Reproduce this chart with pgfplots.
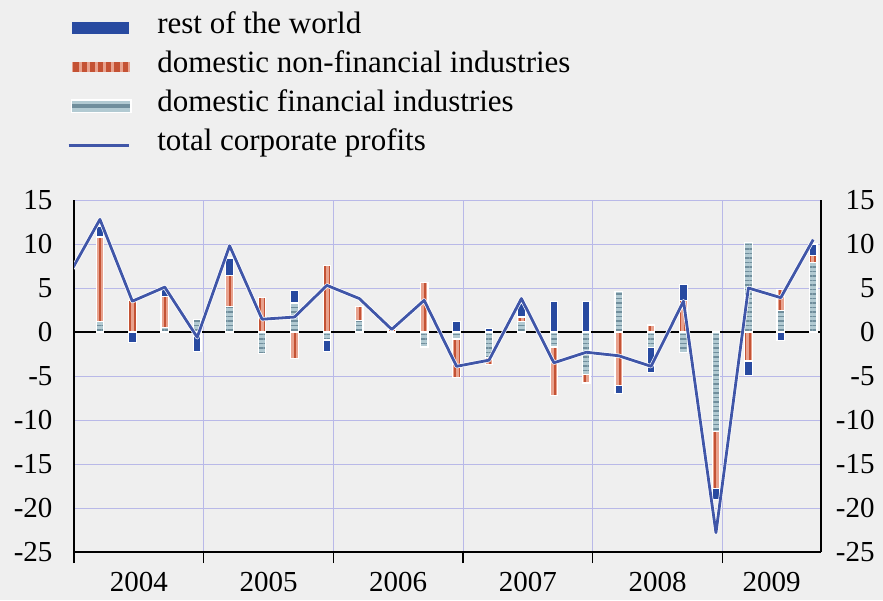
\documentclass[border=0pt]{standalone}
\usepackage{pgfplots}
\pgfplotsset{compat=1.18}
\usepackage{pgfplotstable}
\usepackage{fontspec}
\setmainfont{Liberation Serif}
\usetikzlibrary{patterns.meta}

\definecolor{bg}{RGB}{239,239,239}
\definecolor{gridc}{RGB}{185,185,232}
\definecolor{rowc}{RGB}{40,74,160}
\definecolor{linec}{RGB}{64,86,168}
\definecolor{nfdark}{RGB}{196,82,52}
\definecolor{nflight}{RGB}{232,162,142}
\definecolor{finlight}{RGB}{178,202,210}
\definecolor{findark}{RGB}{112,142,156}

% positive parts of each quarter, 2004Q1 = 0
\pgfplotstableread{
q fin nonfin row
0 1.2 9.6 1.2
1 0 3.6 0
2 0.5 3.5 0.8
3 1.4 0 0
4 2.9 3.5 2.0
5 0 3.9 0
6 3.3 0 1.4
7 0 7.6 0
8 1.3 1.6 0
9 0.1 0.2 0
10 0 5.6 0
11 0 0 1.2
12 0 0 0.4
13 1.2 0.5 1.6
14 0 0 3.5
15 0 0 3.5
16 4.6 0 0
17 0 0.8 0
18 0 3.6 1.8
19 0 0 0
20 10.2 0 0
21 2.4 2.4 0
22 7.9 0.8 1.3
}\tblpos

% negative parts
\pgfplotstableread{
q fin nonfin row
0 0 0 0
1 0 0 -1.2
2 0 0 0
3 0 0 -2.2
4 0 0 0
5 -2.4 0 0
6 0 -3.0 0
7 -0.9 0 -1.3
8 0 0 0
9 0 0 0
10 -1.7 0 0
11 -0.8 -4.4 0
12 -2.9 -0.8 0
13 0 0 0
14 -1.7 -5.5 0
15 -4.8 -1.0 0
16 0 -6.1 -0.9
17 -1.8 0 -2.8
18 -2.3 0 0
19 -11.3 -6.5 -1.2
20 0 -3.3 -1.6
21 0 0 -1.0
22 0 0 0
}\tblneg

% total corporate profits (first point is 2003Q4, clipped)
\pgfplotstableread{
q total
-1 6.2
0 12.8
1 3.5
2 5.1
3 -0.6
4 9.8
5 1.45
6 1.7
7 5.3
8 3.8
9 0.3
10 3.6
11 -3.9
12 -3.2
13 3.8
14 -3.5
15 -2.3
16 -2.7
17 -3.9
18 3.5
19 -22.8
20 5.0
21 3.9
22 10.5
}\tbltot

\pgfplotsset{
  frame/.style={scale only axis, width=747pt, height=352pt,
    at={(74pt,48pt)}, anchor=south west,
    xmin=-0.8, xmax=22.24, ymin=-25, ymax=15},
  finbar/.style={draw=white, line width=1.2pt, fill=finlight,
    postaction={pattern={Lines[angle=0,distance=4.5pt,line width=1.5pt]},pattern color=findark}},
  nfbar/.style={draw=white, line width=1.2pt, fill=nflight,
    postaction={pattern={Lines[angle=90,distance=5pt,line width=2.2pt]},pattern color=nfdark}},
  rowbar/.style={draw=white, line width=1.2pt, fill=rowc},
  tickfont/.style={tick label style={font=\fontsize{29}{33}\selectfont}},
}

\begin{document}
\begin{tikzpicture}
\fill[bg] (0,0) rectangle (883pt,600pt);

% frame, grid, left labels, years, legend
\begin{axis}[frame, tickfont,
  axis x line*=bottom, axis y line*=left,
  axis line style={black, line width=1.2pt},
  xtick={-0.8,3.2,7.2,11.2,15.2,19.2}, xticklabels={},
  xtick align=outside, major tick length=11pt,
  xtick style={black, line width=1.2pt},
  extra x ticks={1.2,5.2,9.2,13.2,17.2,20.72},
  extra x tick labels={2004,2005,2006,2007,2008,2009},
  extra x tick style={grid=none, tick style={draw=none},
    tick label style={yshift=-6pt}},
  ytick={-25,-20,...,15},
  yticklabels={-25,-20,-15,-10,-5,0,5,10,15},
  ytick style={draw=none},
  yticklabel style={xshift=-18pt},
  grid=major, grid style={draw=gridc, line width=0.8pt},
  legend cell align=left,
  legend style={draw=none, fill=none,
    at={(axis description cs:-0.0134,1.5455)}, anchor=north west,
    font=\fontsize{31}{36}\selectfont,
    nodes={inner sep=0pt, text height=23pt, text depth=8pt},
    row sep=8pt, column sep=26pt},
]
\addplot[black, line width=1.2pt, forget plot] coordinates {(-0.8,0) (22.24,0)};
\addlegendimage{legend image code/.code={
  \fill[rowc] (0pt,-8pt) rectangle (56pt,3pt);}}
\addlegendentry{rest of the world}
\addlegendimage{legend image code/.code={
  \fill[nflight] (0pt,-7pt) rectangle (57pt,2pt);
  \foreach \k in {0,...,6}{\fill[nfdark] (\k*8.2pt+1pt,-7pt) rectangle ++(4.2pt,9pt);}}}
\addlegendentry{domestic non-financial industries}
\addlegendimage{legend image code/.code={
  \fill[white] (-1.5pt,-9pt) rectangle (58.5pt,4pt);
  \fill[finlight] (0pt,-7.5pt) rectangle (57pt,2.5pt);
  \fill[findark] (0pt,-4pt) rectangle (57pt,-1pt);}}
\addlegendentry{domestic financial industries}
\addlegendimage{legend image code/.code={
  \draw[linec, line width=2.8pt] (-4pt,-2.5pt) -- (56pt,-2.5pt);}}
\addlegendentry{total corporate profits}
\end{axis}

% positive stacks, right axis
\begin{axis}[frame, tickfont, ybar stacked, bar width=7.5pt,
  axis x line=none, axis y line*=right,
  axis line style={black, line width=1.2pt},
  ytick={-25,-20,...,15},
  yticklabels={-25,-20,-15,-10,-5,0,5,10,15},
  yticklabel pos=right,
  ytick style={draw=none},
  yticklabel style={text width=50pt, align=right},
]
\addplot[finbar] table[x=q, y=fin] {\tblpos};
\addplot[nfbar] table[x=q, y=nonfin] {\tblpos};
\addplot[rowbar] table[x=q, y=row] {\tblpos};
\end{axis}

% negative stacks
\begin{axis}[frame, ybar stacked, bar width=7.5pt, hide axis]
\addplot[finbar] table[x=q, y=fin] {\tblneg};
\addplot[nfbar] table[x=q, y=nonfin] {\tblneg};
\addplot[rowbar] table[x=q, y=row] {\tblneg};
\end{axis}

% total line
\begin{axis}[frame, hide axis]
\addplot[linec, line width=2.8pt, mark=none, line join=round,
  preaction={draw=white, line width=4.2pt}] table[x=q, y=total] {\tbltot};
\end{axis}

\pgfresetboundingbox
\path[use as bounding box] (0,0) rectangle (883pt,600pt);
\end{tikzpicture}
\end{document}
